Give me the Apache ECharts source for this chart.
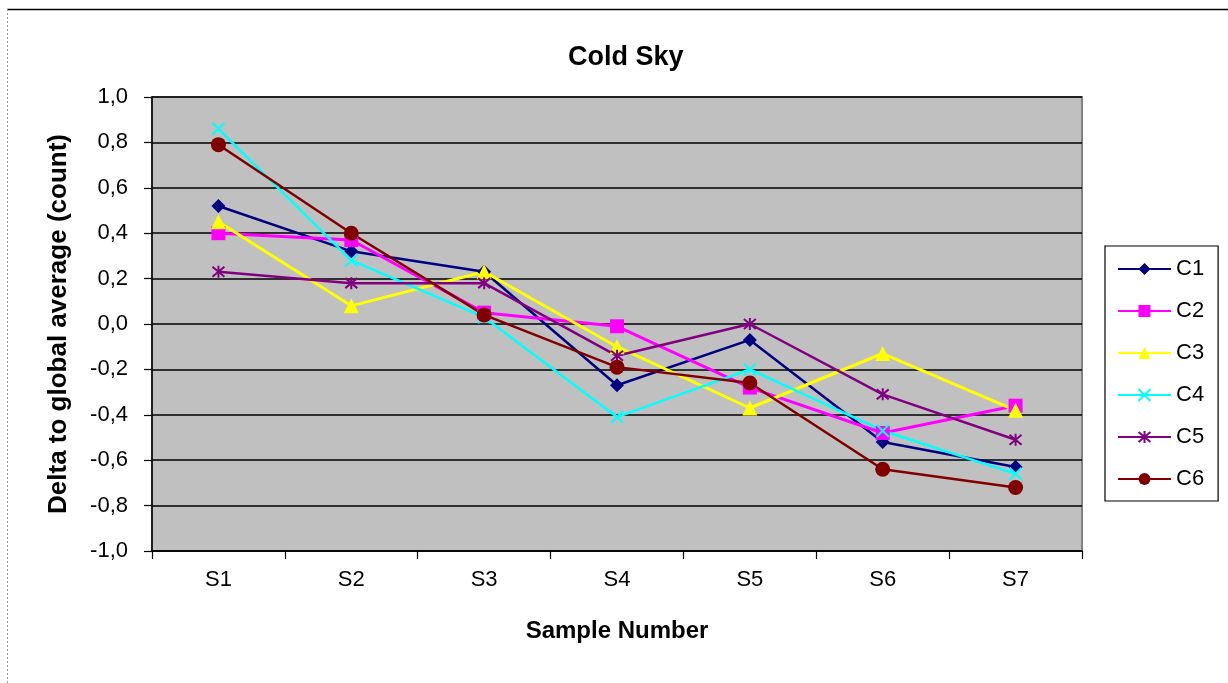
<!DOCTYPE html>
<html>
<head>
<meta charset="utf-8">
<script src="https://cdn.jsdelivr.net/npm/echarts@6/dist/echarts.min.js"></script>
<style>
  html, body { margin: 0; padding: 0; background: #fff; }
  #chart { width: 1228px; height: 683px; }
</style>
</head>
<body>
<div id="chart"></div>
<script>
// data
var samples = ["S1", "S2", "S3", "S4", "S5", "S6", "S7"];
var c1 = [0.52, 0.32, 0.23, -0.27, -0.07, -0.52, -0.63];
var c2 = [0.40, 0.37, 0.05, -0.01, -0.28, -0.48, -0.36];
var c3 = [0.45, 0.08, 0.23, -0.10, -0.37, -0.13, -0.38];
var c4 = [0.86, 0.28, 0.03, -0.41, -0.20, -0.47, -0.66];
var c5 = [0.23, 0.18, 0.18, -0.14, 0.00, -0.31, -0.51];
var c6 = [0.79, 0.40, 0.04, -0.19, -0.26, -0.64, -0.72];

var fontFam = '"Liberation Sans", Arial, sans-serif';

// X and asterisk markers are drawn as strokes
var crossPath = 'path://M0,0L10,10M10,0L0,10';
var starPath = 'path://M0,0L10,10M10,0L0,10M5,-1L5,11';

function mkSeries(name, data, color, symbol, size, stroke, lw) {
  return {
    name: name,
    type: 'line',
    data: data,
    symbol: symbol,
    symbolSize: size,
    showAllSymbol: true,
    lineStyle: { color: color, width: lw },
    itemStyle: stroke
      ? { color: color, borderColor: color, borderWidth: 2 }
      : { color: color, borderWidth: 0 },
    emphasis: { disabled: true }
  };
}

var myChart = echarts.init(document.getElementById('chart'));

var option = {
  animation: false,
  textStyle: { fontFamily: fontFam },
  title: {
    text: 'Cold Sky',
    left: 563,
    top: 39,
    textStyle: { fontSize: 27, fontWeight: 'bold', color: '#000', fontFamily: fontFam }
  },
  graphic: [
    { type: 'line', shape: { x1: 7, y1: 9.5, x2: 1228, y2: 9.5 }, style: { stroke: '#000', lineWidth: 1.5 } },
    { type: 'line', shape: { x1: 7.5, y1: 9, x2: 7.5, y2: 683 }, style: { stroke: '#999', lineWidth: 1, lineDash: [2, 2] } }
  ],
  legend: {
    orient: 'vertical',
    left: 1105,
    top: 246,
    padding: [12, 14, 11, 12],
    itemWidth: 53,
    itemHeight: 15,
    itemGap: 20,
    borderColor: '#000',
    borderWidth: 1.2,
    backgroundColor: '#fff',
    textStyle: { fontSize: 22, lineHeight: 22, color: '#000', fontFamily: fontFam },
    data: ['C1', 'C2', 'C3', 'C4', 'C5', 'C6']
  },
  grid: {
    left: 152,
    right: 146,
    top: 97,
    bottom: 132,
    show: true,
    backgroundColor: '#C0C0C0',
    borderColor: '#808080',
    borderWidth: 2
  },
  xAxis: {
    type: 'category',
    data: samples,
    boundaryGap: true,
    name: 'Sample Number',
    nameLocation: 'middle',
    nameGap: 68,
    nameTextStyle: { fontSize: 24, fontWeight: 'bold', color: '#000' },
    axisLine: { onZero: false, lineStyle: { color: '#000', width: 1.5 } },
    axisTick: { show: true, length: 8, lineStyle: { color: '#000', width: 1.2 } },
    axisLabel: { fontSize: 22, color: '#000', margin: 18 },
    splitLine: { show: false }
  },
  yAxis: {
    type: 'value',
    min: -1,
    max: 1,
    interval: 0.2,
    name: 'Delta to global average (count)',
    nameLocation: 'middle',
    nameGap: 80,
    nameTextStyle: { fontSize: 26, fontWeight: 'bold', color: '#000' },
    axisLine: { show: true, lineStyle: { color: '#000', width: 1.5 } },
    axisTick: { show: true, length: 8, lineStyle: { color: '#000', width: 1.2 } },
    axisLabel: {
      fontSize: 22,
      color: '#000',
      margin: 24,
      formatter: function (v) {
        if (Math.abs(v) < 1e-9) v = 0;
        return v.toFixed(1).replace('.', ',');
      }
    },
    splitLine: { show: true, lineStyle: { color: '#000', width: 1.5 } }
  },
  series: [
    mkSeries('C1', c1, '#000080', 'diamond', 14, false, 2.5),
    mkSeries('C2', c2, '#FF00FF', 'rect', 14, false, 3),
    mkSeries('C3', c3, '#FFFF00', 'triangle', 15, false, 3),
    mkSeries('C4', c4, '#00FFFF', crossPath, 12, true, 2.5),
    mkSeries('C5', c5, '#800080', starPath, 12, true, 2.5),
    mkSeries('C6', c6, '#800000', 'circle', 15, false, 2.5)
  ]
};

myChart.setOption(option);
</script>
</body>
</html>
